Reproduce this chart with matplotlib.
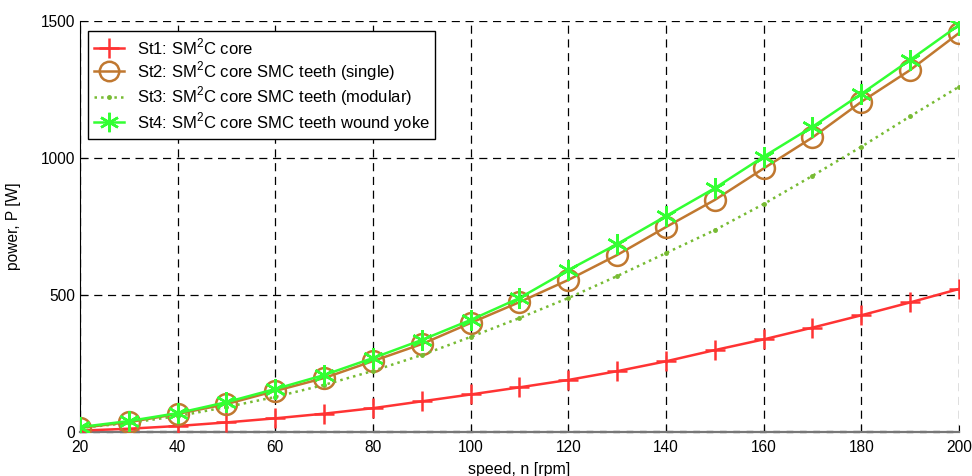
import matplotlib
matplotlib.use("Agg")
import matplotlib.pyplot as plt
from matplotlib.lines import Line2D

speed = [20, 30, 40, 50, 60, 70, 80, 90, 100, 110, 120, 130, 140, 150, 160, 170, 180, 190, 200]
st1 = [5, 12, 22, 35, 50, 67, 87, 112, 137, 163, 190, 222, 258, 299, 338, 381, 426, 473, 522]
st2 = [15, 36, 66, 102, 150, 197, 259, 321, 398, 474, 555, 646, 748, 847, 962, 1075, 1205, 1321, 1456]
st3 = [15, 33, 58, 91, 128, 172, 223, 281, 347, 416, 489, 569, 653, 737, 832, 935, 1041, 1152, 1260]
st4 = [18, 40, 69, 109, 157, 208, 270, 336, 409, 489, 591, 686, 788, 890, 1005, 1114, 1234, 1358, 1485]
labels = ["St1: SM$^2$C core",
          "St2: SM$^2$C core SMC teeth (single)",
          "St3: SM$^2$C core SMC teeth (modular)",
          "St4: SM$^2$C core SMC teeth wound yoke"]
xticks = [20, 40, 60, 80, 100, 120, 140, 160, 180, 200]
yticks = [0, 500, 1000, 1500]

plt.rcParams['font.family'] = ['Liberation Sans', 'DejaVu Sans']
plt.rcParams['mathtext.fontset'] = 'custom'
plt.rcParams['mathtext.rm'] = 'Liberation Sans'

c1, c2, c3, c4 = '#ff3333', '#c07830', '#77bb33', '#33ff33'
star = (6, 2, 0)

fig = plt.figure(figsize=(9.72, 4.76), dpi=100)
ax = fig.add_axes([0.0823, 0.0924, 0.9043, 0.8635])

ax.plot(speed, st1, color=c1, lw=1.8, marker='+', ms=15, mew=1.8, zorder=3)
ax.plot(speed, st2, color=c2, lw=1.8, marker='o', ms=15, mfc='none', mew=1.8, zorder=3)
ax.plot(speed, st3, color=c3, lw=1.8, ls=':', marker='.', ms=5, zorder=3)
ax.plot(speed, st4, color=c4, lw=1.8, marker=star, ms=15, mew=1.8, zorder=4)

ax.set_xlim(20, 200)
ax.set_ylim(0, 1500)
ax.set_xticks(xticks)
ax.set_yticks(yticks)
ax.tick_params(direction='in', length=5, color='black', labelsize=11.2)
ax.tick_params(axis='x', pad=6)
ax.grid(True, color='black', ls=(0, (6.5, 4.5)), lw=0.9)
for s in ['top', 'right']:
    ax.spines[s].set_visible(False)
ax.spines['left'].set_color('black')
ax.spines['bottom'].set_color('#777777')
ax.spines['bottom'].set_linewidth(1.6)
ax.axhline(0, color='black', lw=1.6, ls=(0, (3, 3)), zorder=2.5, clip_on=False)
ax.set_xlabel("speed, n [rpm]", fontsize=11.5, labelpad=5)
ax.set_ylabel("power, P [W]", fontsize=11.2, labelpad=14)

handles = [
    Line2D([], [], color=c1, lw=1.8, marker='+', ms=15, mew=1.8),
    Line2D([], [], color=c2, lw=1.8, marker='o', ms=14, mfc='none', mew=1.8),
    Line2D([], [], color=c3, lw=1.8, ls=':', marker='.', ms=5),
    Line2D([], [], color=c4, lw=1.8, marker=star, ms=14, mew=1.8),
]
leg = ax.legend(handles, labels, loc='upper left',
                bbox_to_anchor=(88 / 972, 1 - 31 / 476), bbox_transform=fig.transFigure,
                borderaxespad=0, fancybox=False,
                edgecolor='black', framealpha=1, fontsize=12, handlelength=1.85,
                borderpad=0.33, labelspacing=0.12, handletextpad=0.75)
leg.get_frame().set_linewidth(1.0)

fig.savefig("out.png", dpi=100)
